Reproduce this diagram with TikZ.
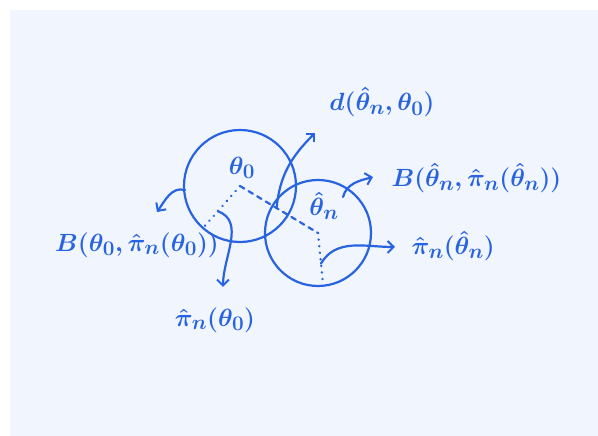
\documentclass[tikz,border=0pt]{standalone}
\usepackage{amsmath,amssymb}
\usetikzlibrary{arrows.meta,calc}
\definecolor{pen}{RGB}{40,100,225}
\definecolor{paper}{RGB}{241,245,253}
\tikzset{ink/.style={pen,line width=2.2pt,line cap=round},
  dots/.style={ink,line width=2.6pt,dash pattern=on 0.1pt off 6.5pt},
  tip/.style={-{Straight Barb[length=6pt,width=12pt,line width=2pt]}},
  lbl/.style={pen,font=\Huge\boldmath}}
\begin{document}
\begin{tikzpicture}[x=1pt,y=1pt]
\useasboundingbox (0,0) rectangle (598,436);
\fill[white] (0,0) rectangle (598,436);
\fill[paper] (10,0) rectangle (598,426);
% the two balls
\node (t0) at (240,250) {};
\node (tn) at (318,203) {};
\draw[ink] (t0.center) circle (56);
\draw[ink] (tn.center) circle (53);
\node[lbl] at (242,268) {$\theta_0$};
\node[lbl] at (324,230) {$\hat{\theta}_n$};
% radii and distance
\coordinate (e0) at (203,208);
\coordinate (en) at (323,152);
\draw[dots] (t0.center) -- (e0);
\draw[dots] (tn.center) -- (en);
\draw[ink,dash pattern=on 5pt off 5pt] (t0.center) -- (tn.center);
\coordinate (s0) at ($(t0.center)!0.47!(tn.center)$);
\coordinate (r0) at ($(t0.center)!0.6!(e0)$);
\coordinate (rn) at ($(tn.center)!0.6!(en)$);
\coordinate (b0) at (185,246);
\coordinate (bn) at (343,239);
\coordinate (a0) at (157,224);
\coordinate (ad) at (315,303);
\coordinate (abn) at (373,259);
\coordinate (apn) at (395,189);
\coordinate (ap0) at (223,149);
% labels
\node[lbl] (d) at (382,334) {$d(\hat{\theta}_n,\theta_0)$};
\node[lbl,anchor=west] (Bn) at (388,258) {$B(\hat{\theta}_n,\hat{\pi}_n(\hat{\theta}_n))$};
\node[lbl,anchor=west] (pn) at (408,190) {$\hat{\pi}_n(\hat{\theta}_n)$};
\node[lbl] (B0) at (137,191) {$B(\theta_0,\hat{\pi}_n(\theta_0))$};
\node[lbl] (p0) at (215,116) {$\hat{\pi}_n(\theta_0)$};
% pointers
\draw[ink,tip] (s0) to[out=85,in=225] (ad);
\draw[ink,tip] (bn) to[out=75,in=195] (abn);
\draw[ink,tip] (rn) to[out=60,in=180] (apn);
\draw[ink,tip] (b0) to[out=165,in=55] (a0);
\draw[ink,tip] (r0) to[out=-20,in=90] (ap0);
\end{tikzpicture}
\end{document}
